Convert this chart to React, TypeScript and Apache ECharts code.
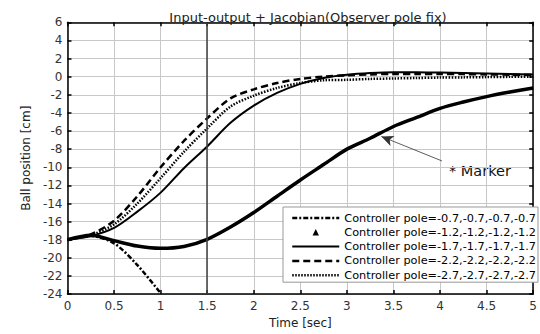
import React, { useEffect, useRef } from "react";
import * as echarts from "echarts";

const FONT = "DejaVu Sans";

const titleText = "Input-output + Jacobian(Observer pole fix)";
const xName = "Time [sec]";
const yName = "Ball position [cm]";
const markerText = "* Marker";

const time = [0, 0.25, 0.5, 0.75, 1, 1.25, 1.5, 1.75, 2, 2.25, 2.5, 2.75, 3, 3.25, 3.5, 3.75, 4, 4.25, 4.5, 4.75, 5];

const seriesNames = [
  "Controller pole=-0.7,-0.7,-0.7,-0.7",
  "Controller pole=-1.2,-1.2,-1.2,-1.2",
  "Controller pole=-1.7,-1.7,-1.7,-1.7",
  "Controller pole=-2.2,-2.2,-2.2,-2.2",
  "Controller pole=-2.7,-2.7,-2.7,-2.7",
];

const pole07 = [-18, -17.6, -18.4, -20.8, -23.9, null, null, null, null, null, null, null, null, null, null, null, null, null, null, null, null];
const pole12 = [-18, -17.5, -18.1, -18.7, -18.95, -18.75, -17.95, -16.6, -15.0, -13.2, -11.4, -9.7, -8.0, -6.8, -5.5, -4.5, -3.5, -2.8, -2.2, -1.7, -1.25];
const pole17 = [-18, -17.6, -16.7, -14.9, -12.8, -10.1, -7.7, -5.1, -3.2, -1.8, -0.8, -0.15, 0.2, 0.4, 0.5, 0.5, 0.45, 0.4, 0.35, 0.3, 0.25];
const pole22 = [-18, -17.4, -15.9, -13.2, -10.0, -7.1, -4.6, -2.4, -1.4, -0.7, -0.25, 0.0, 0.15, 0.25, 0.3, 0.3, 0.3, 0.28, 0.25, 0.22, 0.2];
const pole27 = [-18, -17.5, -16.3, -14.0, -11.2, -8.3, -5.7, -3.3, -2.1, -1.25, -0.7, -0.4, -0.35, -0.25, -0.2, -0.15, -0.1, -0.08, -0.05, -0.02, 0.0];

const verticalMarkT = 1.5;
const arrowTail = [4.02, -9.3];
const arrowTip = [3.37, -6.6];

const pairs = (vals: (number | null)[]) => time.map((t, i) => [t, vals[i]]);

const hiddenSymbol = { opacity: 0, color: "transparent", borderColor: "transparent", borderWidth: 0 };

export default function App() {
  const ref = useRef<HTMLDivElement>(null);
  useEffect(() => {
    if (!ref.current) return;
    const chart = echarts.init(ref.current, undefined, { renderer: "svg" });
    const axisLabel = { fontFamily: FONT, fontSize: 12, color: "#333" };
    const baseX = {
      type: "value",
      min: 0,
      max: 5,
      interval: 0.5,
      axisLine: { show: true, onZero: false, lineStyle: { color: "#000", width: 1.5 } },
      axisTick: { show: true, inside: true, length: 4, lineStyle: { color: "#000", width: 1.5 } },
    };
    const baseY = {
      type: "value",
      min: -24,
      max: 6,
      interval: 2,
      axisLine: { show: true, onZero: false, lineStyle: { color: "#000", width: 1.5 } },
      axisTick: { show: true, inside: true, length: 4, lineStyle: { color: "#000", width: 1.5 } },
    };
    chart.setOption({
      animation: false,
      backgroundColor: "#fff",
      title: {
        text: titleText,
        left: 303,
        top: 6,
        textAlign: "center",
        textStyle: { fontFamily: FONT, fontSize: 13, fontWeight: "normal", color: "#222" },
      },
      grid: { left: 67.5, right: 1.5, top: 22.3, bottom: 32, containLabel: false },
      xAxis: [
        {
          ...baseX,
          position: "bottom",
          axisLabel: { ...axisLabel, margin: 6 },
          splitLine: { show: true, lineStyle: { color: "#c8c8c8", width: 1 } },
          name: xName,
          nameLocation: "middle",
          nameGap: 21,
          nameTextStyle: { fontFamily: FONT, fontSize: 12, color: "#222" },
        },
        { ...baseX, position: "top", axisLabel: { show: false }, splitLine: { show: false } },
      ],
      yAxis: [
        {
          ...baseY,
          position: "left",
          axisLabel: { ...axisLabel, margin: 5 },
          splitLine: { show: true, lineStyle: { color: "#c8c8c8", width: 1 } },
          name: yName,
          nameLocation: "middle",
          nameGap: 27,
          nameTextStyle: { fontFamily: FONT, fontSize: 12, color: "#222" },
        },
        { ...baseY, position: "right", axisLabel: { show: false }, splitLine: { show: false } },
      ],
      legend: {
        orient: "vertical",
        left: 283,
        top: 207,
        itemWidth: 47,
        itemHeight: 8,
        itemGap: 2.3,
        padding: [5, 2, 1, 8],
        backgroundColor: "#fff",
        borderColor: "#999",
        borderWidth: 1,
        selectedMode: false,
        lineStyle: { width: "inherit", type: "inherit" },
        textStyle: { fontFamily: FONT, fontSize: 11.3, color: "#000", lineHeight: 12 },
        data: [
          { name: seriesNames[0], itemStyle: hiddenSymbol },
          { name: seriesNames[1], lineStyle: { width: 0 } },
          { name: seriesNames[2], itemStyle: hiddenSymbol },
          { name: seriesNames[3], itemStyle: hiddenSymbol },
          { name: seriesNames[4], itemStyle: hiddenSymbol },
        ],
      },
      series: [
        {
          name: seriesNames[0],
          type: "line",
          data: pairs(pole07),
          symbol: "none",
          smooth: 0.3,
          lineStyle: { color: "#000", width: 2.5, type: [5, 2, 2, 2] },
          itemStyle: { color: "#000" },
          z: 3,
        },
        {
          name: seriesNames[1],
          type: "line",
          data: pairs(pole12),
          symbol: "triangle",
          showSymbol: false,
          smooth: 0.3,
          lineStyle: { color: "#000", width: 3.5 },
          itemStyle: { color: "#000" },
          z: 3,
          markLine: {
            silent: true,
            animation: false,
            lineStyle: { color: "#333", width: 0.8, type: "solid" },
            label: { show: false },
            data: [
              [
                { coord: arrowTail, symbol: "none" },
                { coord: arrowTip, symbol: "arrow", symbolSize: [8, 12] },
              ],
            ],
          },
        },
        {
          name: seriesNames[2],
          type: "line",
          data: pairs(pole17),
          symbol: "none",
          smooth: 0.3,
          lineStyle: { color: "#000", width: 2 },
          itemStyle: { color: "#000" },
          z: 3,
          markLine: {
            silent: true,
            animation: false,
            symbol: "none",
            label: { show: false },
            lineStyle: { color: "#404040", width: 1.5, type: "solid" },
            data: [{ xAxis: verticalMarkT }],
          },
        },
        {
          name: seriesNames[3],
          type: "line",
          data: pairs(pole22),
          symbol: "none",
          smooth: 0.3,
          lineStyle: { color: "#000", width: 2.5, type: [7, 4] },
          itemStyle: { color: "#000" },
          z: 3,
        },
        {
          name: seriesNames[4],
          type: "line",
          data: pairs(pole27),
          symbol: "none",
          smooth: 0.3,
          lineStyle: { color: "#000", width: 2.5, type: [1.5, 1.5] },
          itemStyle: { color: "#000" },
          z: 3,
        },
      ],
      graphic: [
        {
          type: "text",
          left: 449,
          top: 163,
          style: { text: markerText, fontFamily: FONT, fontSize: 14.5, fill: "#111" },
        },
      ],
    });
    return () => chart.dispose();
  }, []);
  return (
    <div
      ref={ref}
      style={{ position: "fixed", left: 0, top: 0, width: 540, height: 334, background: "#fff" }}
    />
  );
}
